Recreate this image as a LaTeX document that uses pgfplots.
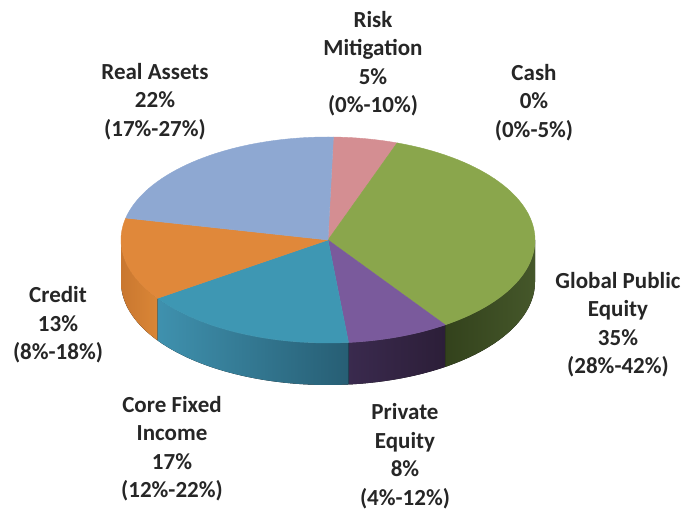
\documentclass[border=0pt]{standalone}
\usepackage{pgfplots}
\pgfplotsset{compat=1.18}
\usepgfplotslibrary{fillbetween}
\usepackage{fontspec}
\setmainfont{Carlito}
\definecolor{cRA}{HTML}{8EA8D2}
\definecolor{cRM}{HTML}{D48E92}
\definecolor{cGPE}{HTML}{8AA64C}
\definecolor{cPE}{HTML}{7A5A9C}
\definecolor{cCFI}{HTML}{3E97B3}
\definecolor{cCR}{HTML}{E0883A}
\definecolor{sgL}{HTML}{33421C}\definecolor{sgR}{HTML}{45572A}
\definecolor{spL}{HTML}{3A2A4E}\definecolor{spR}{HTML}{2C1E38}
\definecolor{stL}{HTML}{3F91AE}\definecolor{stR}{HTML}{275E74}
\definecolor{soL}{HTML}{C97730}\definecolor{soR}{HTML}{DA8636}
\definecolor{txt}{HTML}{262626}
% values (percent), clockwise from the top
\def\vRM{5}\def\vGPE{35}\def\vPE{8}\def\vCFI{17}\def\vCR{13}\def\vRA{22}\def\vCash{0}
\def\cx{328}\def\cy{240}\def\rx{207}\def\ry{103}\def\dep{42}
\newcommand\topslice[3]{%
  \addplot[fill=#3, draw=#3, line width=0.4pt, domain=#1:#2, samples=60, variable=\t]
    ({\cx+\rx*cos(\t)},{\cy-\ry*sin(\t)}) -- (axis cs:\cx,\cy) -- cycle;}
\newcommand\side[5]{%
  \addplot[draw=none, name path=#5t, domain=#1:#2, samples=50, variable=\t]
    ({\cx+\rx*cos(\t)},{\cy-\ry*sin(\t)});
  \addplot[draw=none, name path=#5b, domain=#1:#2, samples=50, variable=\t]
    ({\cx+\rx*cos(\t)},{\cy-\ry*sin(\t)+\dep});
  \addplot[left color=#3, right color=#4, draw=none] fill between[of=#5t and #5b];}
\begin{document}
\begin{tikzpicture}
\pgfmathsetmacro{\aA}{88.5}
\pgfmathsetmacro{\aB}{\aA-3.6*\vRM}
\pgfmathsetmacro{\aC}{\aB-3.6*\vGPE}
\pgfmathsetmacro{\aD}{\aC-3.6*\vPE}
\pgfmathsetmacro{\aE}{\aD-3.6*\vCFI}
\pgfmathsetmacro{\aF}{\aE-3.6*\vCR}
\pgfmathsetmacro{\aG}{\aF-3.6*\vRA}
\begin{axis}[x=1bp, y=1bp, xmin=0, xmax=683, ymin=0, ymax=510, y dir=reverse,
  hide axis, clip=false]
\path (rel axis cs:0,0) rectangle (rel axis cs:1,1);
% sides (front half only)
\side{\aC}{0}{sgL}{sgR}{sg}
\side{\aD}{\aC}{spL}{spR}{sp}
\side{\aE}{\aD}{stL}{stR}{st}
\side{-180}{\aE}{soL}{soR}{so}
% top faces
\topslice{\aB}{\aA}{cRM}
\topslice{\aC}{\aB}{cGPE}
\topslice{\aD}{\aC}{cPE}
\topslice{\aE}{\aD}{cCFI}
\topslice{\aF}{\aE}{cCR}
\topslice{\aG}{\aF}{cRA}
% labels
\begin{scope}[every node/.style={text=txt, align=center, inner sep=0pt,
    font=\bfseries\fontsize{23bp}{28.5bp}\selectfont}]
\node at (axis cs:373,63.5) {Risk\\Mitigation\\5\%\\(0\%-10\%)};
\node at (axis cs:534,102.5) {Cash\\0\%\\(0\%-5\%)};
\node at (axis cs:155,101.5) {Real Assets\\22\%\\(17\%-27\%)};
\node at (axis cs:58,325) {Credit\\13\%\\(8\%-18\%)};
\node at (axis cs:618,324.5) {Global Public\\Equity\\35\%\\(28\%-42\%)};
\node at (axis cs:172,448.5) {Core Fixed\\Income\\17\%\\(12\%-22\%)};
\node at (axis cs:405,456) {Private\\Equity\\8\%\\(4\%-12\%)};
\end{scope}
\end{axis}
\end{tikzpicture}
\end{document}
